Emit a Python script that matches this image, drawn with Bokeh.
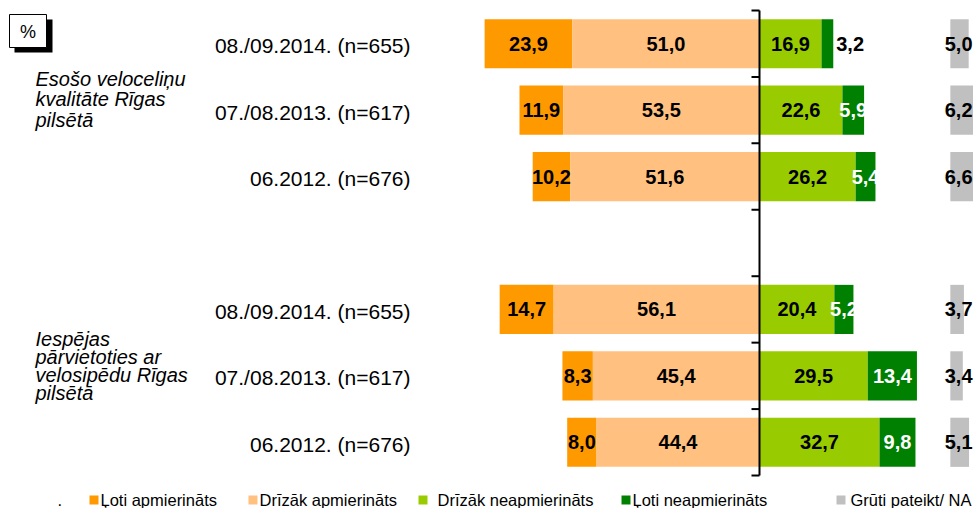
from bokeh.plotting import figure
from bokeh.models import Range1d, ColumnDataSource
from bokeh.core.properties import value
from bokeh.embed import file_html
from bokeh.resources import INLINE

# ---------------- data ----------------
group_labels = [
    ["Esošo veloceliņu", "kvalitāte Rīgas", "pilsētā"],
    ["Iespējas", "pārvietoties ar", "velosipēdu Rīgas", "pilsētā"],
]
periods = ["08./09.2014. (n=655)", "07./08.2013. (n=617)", "06.2012. (n=676)",
           "08./09.2014. (n=655)", "07./08.2013. (n=617)", "06.2012. (n=676)"]
series_names = ["Ļoti apmierināts", "Drīzāk apmierināts", "Drīzāk neapmierināts",
                "Ļoti neapmierināts", "Grūti pateikt/ NA"]
loti_apm = [23.9, 11.9, 10.2, 14.7, 8.3, 8.0]
drizak_apm = [51.0, 53.5, 51.6, 56.1, 45.4, 44.4]
drizak_neapm = [16.9, 22.6, 26.2, 20.4, 29.5, 32.7]
loti_neapm = [3.2, 5.9, 5.4, 5.2, 13.4, 9.8]
gruti = [5.0, 6.2, 6.6, 3.7, 3.4, 5.1]
na_start = 52.0  # where the NA column begins on the value scale

# ---------------- layout / style ----------------
colors = ["#FF9900", "#FFC080", "#99CC00", "#008000", "#C0C0C0"]
slots = [0, 1, 2, 4, 5, 6]          # row slots (slot 3 is the gap)
n_slots = 7
W, H = 973, 508
S = 3.67          # px per percent
SLOT = 66.43      # px per row slot
CX = 759          # px of value 0
TOP = 10          # px of top tick

def px_x(rx):
    return (rx - CX) / S

def px_y(ry):
    return (ry - TOP) / SLOT

def fmt(v):
    return f"{v:.1f}".replace(".", ",")

p = figure(width=W, height=H, output_backend="svg", toolbar_location=None,
           title=None, x_axis_location=None, y_axis_location=None,
           min_border=0, min_border_left=0, min_border_right=0,
           min_border_top=0, min_border_bottom=0,
           x_range=Range1d(-CX / S, (W - CX) / S),
           y_range=Range1d((H - TOP) / SLOT, -TOP / SLOT))
p.outline_line_color = None
p.xgrid.visible = False
p.ygrid.visible = False
p.background_fill_color = "white"
p.border_fill_color = "white"

yc = [s + 0.5 for s in slots]
bh = 0.74

# ----- bars -----
neg_right = [-d for d in drizak_apm]
neg_left_o = [-(a + d) for a, d in zip(loti_apm, drizak_apm)]
p.hbar(y=yc, left=neg_left_o, right=neg_right, height=bh, fill_color=colors[0], line_color=None)
p.hbar(y=yc, left=neg_right, right=[0] * 6, height=bh, fill_color=colors[1], line_color=None)
p.hbar(y=yc, left=[0] * 6, right=drizak_neapm, height=bh, fill_color=colors[2], line_color=None)
ln_right = [a + b for a, b in zip(drizak_neapm, loti_neapm)]
p.hbar(y=yc, left=drizak_neapm, right=ln_right, height=bh, fill_color=colors[3], line_color=None)
p.hbar(y=yc, left=[na_start] * 6, right=[na_start + g for g in gruti], height=bh,
       fill_color=colors[4], line_color=None)

# ----- value labels -----
lx, ly, lt, lc, la = [], [], [], [], []
edge = px_x(W - 1)
for i in range(6):
    y = yc[i]
    segs = [
        (neg_left_o[i], neg_right[i], loti_apm[i], "black"),
        (neg_right[i], 0, drizak_apm[i], "black"),
        (0, drizak_neapm[i], drizak_neapm[i], "black"),
        (drizak_neapm[i], ln_right[i], loti_neapm[i], "white"),
    ]
    for k, (l, r, v, c) in enumerate(segs):
        if k == 3 and v < 4:
            lx.append(r + 0.8); la.append("left"); lc.append("black")
        else:
            lx.append((l + r) / 2); la.append("center"); lc.append(c)
        ly.append(y); lt.append(fmt(v))
    # NA column label kept inside the picture
    lx.append(edge); la.append("right"); lc.append("black"); ly.append(y); lt.append(fmt(gruti[i]))
src = ColumnDataSource(dict(x=lx, y=ly, text=lt, color=lc, align=la))
p.text(x="x", y="y", text="text", text_color="color", text_align="align",
       text_baseline="middle", text_font=value("Liberation Sans"),
       text_font_size="20px", text_font_style="bold", source=src)

# ----- central axis with ticks -----
p.segment(x0=[0], y0=[0], x1=[0], y1=[n_slots], line_color="black", line_width=2)
ticks = list(range(n_slots + 1))
p.segment(x0=[-8 / S] * len(ticks), y0=ticks, x1=[0] * len(ticks), y1=ticks,
          line_color="black", line_width=2)

# ----- period labels -----
p.text(x=[px_x(410)] * 6, y=[c + 2 / SLOT for c in yc], text=periods,
       text_align="right", text_baseline="middle", text_color="black",
       text_font=value("Liberation Sans"), text_font_size="21px")

# ----- group labels -----
g1 = group_labels[0]
p.text(x=[px_x(35)] * len(g1), y=[px_y(78 + 20.5 * k) for k in range(len(g1))], text=g1,
       text_align="left", text_baseline="middle", text_color="black",
       text_font=value("Liberation Sans"), text_font_size="20px", text_font_style="italic")
g2 = group_labels[1]
p.text(x=[px_x(35)] * len(g2), y=[px_y(338 + 18 * k) for k in range(len(g2))], text=g2,
       text_align="left", text_baseline="middle", text_color="black",
       text_font=value("Liberation Sans"), text_font_size="20px", text_font_style="italic")

# ----- % box -----
p.quad(left=[px_x(14)], right=[px_x(52)], top=[px_y(19)], bottom=[px_y(52)],
       fill_color="black", line_color=None)
p.quad(left=[px_x(9)], right=[px_x(46)], top=[px_y(14)], bottom=[px_y(47)],
       fill_color="white", line_color="black", line_width=1)
p.text(x=[px_x(27.5)], y=[px_y(31)], text=["%"], text_align="center", text_baseline="middle",
       text_font=value("Liberation Sans"), text_font_size="18px", text_color="black")

# ----- legend -----
leg_sq = [89, 248, 418, 621, 836]
leg_tx = [100, 259, 437, 632, 850]
p.quad(left=[px_x(x) for x in leg_sq], right=[px_x(x + 9) for x in leg_sq],
       top=[px_y(495)] * 5, bottom=[px_y(504)] * 5, fill_color=colors, line_color=None)
p.text(x=[px_x(x) for x in leg_tx], y=[px_y(499)] * 5, text=series_names,
       text_align="left", text_baseline="middle", text_color="black",
       text_font=value("Liberation Sans"), text_font_size="16.5px")
p.text(x=[px_x(57)], y=[px_y(499)], text=["."], text_align="left", text_baseline="middle",
       text_color="black", text_font=value("Liberation Sans"), text_font_size="16.5px")

open("out.html", "w").write(file_html(p, INLINE))
